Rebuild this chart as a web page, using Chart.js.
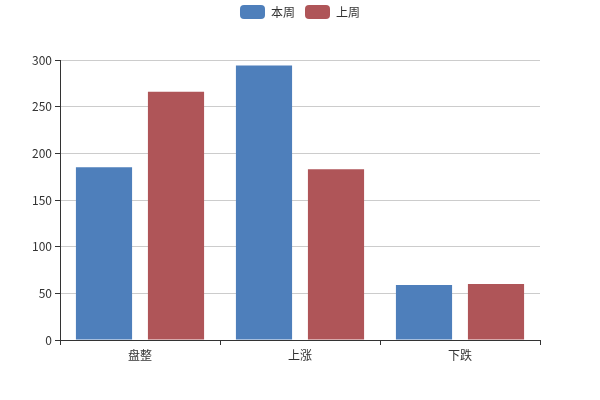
<!DOCTYPE html>
<html>
<head>
<meta charset="utf-8">
<script src="https://cdn.jsdelivr.net/npm/chart.js@4"></script>
<style>
  html, body { margin: 0; padding: 0; background: #fff; }
  #wrap { width: 600px; height: 400px; }
</style>
</head>
<body>
<div id="wrap"><canvas id="myChart" width="600" height="400"></canvas></div>
<script>
// Data
const categories = ['盘整', '上涨', '下跌'];
const thisWeek = [185, 294, 59];
const lastWeek = [266, 183, 60];
const yTicks = [0, 50, 100, 150, 200, 250, 300];

const FONT = { family: '"Noto Sans CJK SC", "Microsoft YaHei", sans-serif', size: 12 };

const ctx = document.getElementById('myChart');
const myChart = new Chart(ctx, {
    type: 'bar',
    data: {
        labels: categories,
        datasets: [{
            label: '本周',
            data: thisWeek,
            backgroundColor: '#4e7fbb',
            borderWidth: 0
        }, {
            label: '上周',
            data: lastWeek,
            backgroundColor: '#af5558',
            borderWidth: 0
        }]
    },
    options: {
        responsive: false,
        animation: false,
        categoryPercentage: 0.9,
        barPercentage: 0.78,
        layout: { padding: { left: 0, right: 0, top: -5, bottom: 0 } },
        plugins: {
            legend: {
                position: 'top',
                labels: {
                    boxWidth: 25,
                    boxHeight: 14,
                    useBorderRadius: true,
                    borderRadius: 4,
                    color: '#333',
                    font: FONT,
                    padding: 10
                }
            },
            // empty title under the legend, used as a spacer above the plot
            title: {
                display: true,
                text: '',
                weight: 0,
                font: { size: 10 },
                padding: { top: 19, bottom: 0 }
            },
            tooltip: { enabled: false }
        },
        scales: {
            x: {
                grid: {
                    drawOnChartArea: false,
                    tickLength: 5,
                    tickColor: '#333'
                },
                border: { color: '#333' },
                ticks: { color: '#333', font: FONT, padding: 3 },
                afterFit: scale => { scale.height = 60; }
            },
            y: {
                min: 0,
                max: 300,
                afterBuildTicks: scale => { scale.ticks = yTicks.map(v => ({ value: v })); },
                grid: {
                    color: '#ccc',
                    tickLength: 5,
                    tickColor: '#333'
                },
                border: { color: '#333' },
                ticks: { color: '#333', font: FONT, padding: 3 },
                afterFit: scale => { scale.width = 60; }
            },
            // empty right-hand axis, only keeps a 60px margin on the right
            yRight: {
                position: 'right',
                min: 0,
                max: 300,
                grid: { display: false },
                border: { display: false },
                ticks: { display: false },
                afterFit: scale => { scale.width = 60; }
            }
        }
    }
});
</script>
</body>
</html>
